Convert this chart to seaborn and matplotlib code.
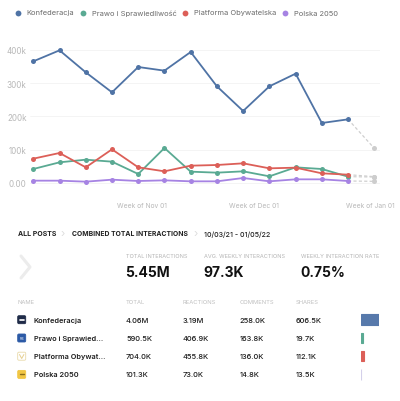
import numpy as np
import pandas as pd
import matplotlib
matplotlib.use("Agg")
import matplotlib.pyplot as plt
import matplotlib.dates as mdates
import seaborn as sns
from matplotlib.lines import Line2D
from matplotlib.patches import FancyBboxPatch

# ---------------- data ----------------
weeks = pd.date_range("2021-10-03", periods=14, freq="7D")
party_names = ["Konfederacja", "Prawo i Sprawiedliwość", "Platforma Obywatelska", "Polska 2050"]
konfederacja = [365, 398, 332, 272, 348, 337, 393, 290, 216, 290, 328, 180, 191, 104]
prawo = [42, 62, 70, 64, 27, 105, 34, 31, 35, 20, 47, 42, 19, 18]
platforma = [73, 90, 47, 101, 47, 35, 52, 54, 59, 44, 46, 29, 25, 19]
polska = [7, 7, 4, 10, 6, 8, 5, 5, 15, 5, 11, 11, 6, 5]
y_ticks = [0, 100000, 200000, 300000, 400000]
y_tick_labels = ["0.00", "100k", "200k", "300k", "400k"]
x_ticks = ["2021-11-01", "2021-12-01", "2022-01-01"]
x_tick_labels = ["Week of Nov 01", "Week of Dec 01", "Week of Jan 01"]

table_names = ["Konfederacja", "Prawo i Sprawied...", "Platforma Obywat...", "Polska 2050"]
total_labels = ["4.06M", "590.5K", "704.0K", "101.3K"]
reaction_labels = ["3.19M", "406.9K", "455.8K", "73.0K"]
comment_labels = ["258.0K", "163.8K", "136.0K", "14.8K"]
share_labels = ["606.5K", "19.7K", "112.1K", "13.5K"]
total_values = [4.06e6, 590.5e3, 704.0e3, 101.3e3]
headline_titles = ["TOTAL INTERACTIONS", "AVG. WEEKLY INTERACTIONS", "WEEKLY INTERACTION RATE"]
headline_values = ["5.45M", "97.3K", "0.75%"]

colors = ["#4f73a5", "#5aaa93", "#dc5f58", "#a683e3"]
bar_colors = ["#5779ab", "#5aaa93", "#dc5f58", "#d4d0ea"]

# ---------------- setup ----------------
sns.set_style("white")
plt.rcParams["font.family"] = ["Inter", "DejaVu Sans"]

W, H = 400, 402
fig = plt.figure(figsize=(W / 100, H / 100), dpi=100)
fig.patch.set_facecolor("white")

def fx(x):
    return x / W

def fy(y):
    return 1 - y / H

# ---------------- line chart ----------------
ax = fig.add_axes([fx(30), fy(195), 350 / W, 155 / H])
series = [konfederacja, prawo, platforma, polska]
rows = []
for name, vals in zip(party_names, series):
    for w, v in zip(weeks, vals):
        rows.append({"week": w, "value": v * 1000, "party": name})
df = pd.DataFrame(rows)
df_solid = df[df["week"] <= weeks[-2]]
df_dash = df[df["week"] >= weeks[-2]]
df_last = df[df["week"] == weeks[-1]]

sns.lineplot(data=df_dash, x="week", y="value", units="party", estimator=None,
             color="#cfcfcf", linestyle=(0, (2.5, 1.8)), linewidth=0.9, legend=False, ax=ax)
sns.lineplot(data=df_solid, x="week", y="value", hue="party", hue_order=party_names,
             palette=colors, marker="o", markersize=3.6, markeredgewidth=0,
             linewidth=1.3, legend=False, ax=ax)
sns.scatterplot(data=df_last, x="week", y="value", color="#cdcdcd", s=13,
                linewidth=0, legend=False, ax=ax)

px_per_day = (374.3 - 33.3) / 91.0
d0 = mdates.date2num(weeks[0])
left = d0 - (33.3 - 30) / px_per_day
ax.set_xlim(left, left + 350 / px_per_day)
ax.set_ylim(-33000, 432000)
ax.set_yticks(y_ticks)
ax.set_yticklabels(y_tick_labels)
ax.set_xticks([mdates.date2num(pd.Timestamp(d)) for d in x_ticks])
ax.set_xticklabels(x_tick_labels)
ax.tick_params(axis="both", length=0, colors="#b8b8b8")
ax.tick_params(axis="y", pad=2.5, labelsize=5.8)
ax.tick_params(axis="x", pad=5.5, labelsize=4.8)
ax.set_xlabel("")
ax.set_ylabel("")
for s in ax.spines.values():
    s.set_visible(False)
ax.yaxis.grid(True, color="#f3f3f3", linewidth=0.6)
ax.set_axisbelow(True)

# ---------------- legend ----------------
leg_dot_x = [18, 83, 185, 285]
for name, c, x in zip(party_names, colors, leg_dot_x):
    fig.add_artist(Line2D([fx(x)], [fy(13.5)], marker="o", markersize=4.2,
                          markeredgewidth=0, color=c, transform=fig.transFigure))
    fig.text(fx(x + 8.5), fy(13.5), name, fontsize=5.4, color="#6b6b6b", va="center", ha="left")

# ---------------- breadcrumb ----------------
fig.text(fx(17.5), fy(234.5), "ALL POSTS", fontsize=5.0, fontweight="bold", color="#222222", va="center")
fig.text(fx(61), fy(234.5), "›", fontsize=8, color="#dddddd", va="center")
fig.text(fx(72.5), fy(234.5), "COMBINED TOTAL INTERACTIONS", fontsize=4.9, fontweight="bold",
         color="#222222", va="center")
fig.text(fx(194), fy(234.5), "›", fontsize=8, color="#dddddd", va="center")
fig.text(fx(204.5), fy(234.5), "10/03/21 - 01/05/22", fontsize=5.1, fontweight="medium",
         color="#222222", va="center")

# big chevron
fig.add_artist(Line2D([fx(21), fx(30), fx(21)], [fy(257), fy(268), fy(279)],
                      color="#ececec", linewidth=2.2, transform=fig.transFigure))

head_x = [126, 204, 301]
for t, v, x in zip(headline_titles, headline_values, head_x):
    fig.text(fx(x), fy(256.5), t, fontsize=4.0, color="#b5b5b5", va="center")
    fig.text(fx(x - 0.5), fy(273.5), v, fontsize=10, fontweight="bold", color="#111111", va="center")

# ---------------- table ----------------
col_x = [17.7, 126, 182.7, 239.3, 296]
headers = ["NAME", "TOTAL", "REACTIONS", "COMMENTS", "SHARES"]
for h, x in zip(headers, col_x):
    fig.text(fx(x), fy(302.3), h, fontsize=4.2, color="#c0c0c0", va="center")

row_y = [320.7, 339.0, 357.2, 375.4]
icon_colors = ["#1f2b48", "#2c5aa6", "#ffffff", "#f1c644"]
for i, y in enumerate(row_y):
    box = FancyBboxPatch((fx(17.7), fy(y + 4)), 8 / W, 8 / H,
                         boxstyle="round,pad=0,rounding_size=0.003",
                         transform=fig.transFigure, facecolor=icon_colors[i],
                         edgecolor="#e8d9a8" if i == 2 else icon_colors[i], linewidth=0.6)
    fig.add_artist(box)
    fig.text(fx(34), fy(y), table_names[i], fontsize=5.3, fontweight="semibold",
             color="#1e1e1e", va="center")
    for lab, x in zip([total_labels[i], reaction_labels[i], comment_labels[i], share_labels[i]], col_x[1:]):
        fig.text(fx(x), fy(y), lab, fontsize=5.4, fontweight="medium", color="#1e1e1e", va="center")

# icon glyphs
fig.add_artist(Line2D([fx(19.7), fx(23.7)], [fy(320.7), fy(320.7)], color="white",
                      linewidth=1.2, transform=fig.transFigure))
fig.text(fx(21.7), fy(339.5), "PiS", fontsize=2.2, color="white", ha="center", va="center")
fig.add_artist(Line2D([fx(19.5), fx(21.7), fx(23.9)], [fy(355.5), fy(359.5), fy(355.5)],
                      color="#e6cf8f", linewidth=0.7, transform=fig.transFigure))
fig.add_artist(Line2D([fx(19.7), fx(23.7)], [fy(375.4), fy(375.4)], color="#8a6d1c",
                      linewidth=1.0, transform=fig.transFigure))

# share bars (proportional to total)
bax = fig.add_axes([fx(360.7), fy(384.5), 18.6 / W, (384.5 - 311.5) / H])
bdf = pd.DataFrame({"name": table_names, "total": total_values})
sns.barplot(data=bdf, x="total", y="name", hue="name", palette=bar_colors, orient="h",
            width=0.57, legend=False, ax=bax, saturation=1)
for p, c in zip(bax.patches, bar_colors):
    p.set_edgecolor(c)
    p.set_linewidth(0.8)
bax.set_xlim(0, total_values[0])
bax.axis("off")

fig.savefig("out.png", dpi=100, facecolor="white")
